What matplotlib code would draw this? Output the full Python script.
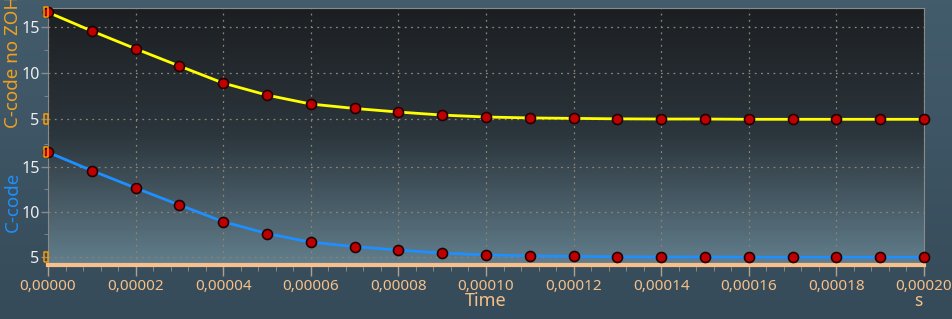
import matplotlib

matplotlib.use("Agg")
import matplotlib.pyplot as plt
import numpy as np
from matplotlib.colors import LinearSegmentedColormap
from matplotlib.ticker import FuncFormatter, MultipleLocator

# sample times (s) and the two recorded signals
time_s = [0.0, 0.00001, 0.00002, 0.00003, 0.00004, 0.00005, 0.00006, 0.00007,
          0.00008, 0.00009, 0.00010, 0.00011, 0.00012, 0.00013, 0.00014,
          0.00015, 0.00016, 0.00017, 0.00018, 0.00019, 0.00020]
ccode_no_zoh = [16.6, 14.57, 12.64, 10.76, 8.91, 7.6, 6.63, 6.15, 5.76, 5.43,
                5.22, 5.12, 5.07, 5.02, 5.0, 5.0, 4.97, 4.97, 4.97, 4.97, 4.97]
ccode = [16.6, 14.57, 12.64, 10.76, 8.91, 7.6, 6.63, 6.15, 5.76, 5.43,
         5.22, 5.12, 5.07, 5.02, 5.0, 5.0, 4.97, 4.97, 4.97, 4.97, 4.97]
y_ticks = [5, 10, 15]
x_major = 0.00002

plt.rcParams["font.family"] = ["Noto Sans", "DejaVu Sans"]

W, H = 953, 319
fig = plt.figure(figsize=(W / 100, H / 100), dpi=100)

# figure background
bg = fig.add_axes([0, 0, 1, 1])
bg.imshow(np.linspace(0, 1, 64).reshape(-1, 1), aspect="auto", extent=[0, 1, 0, 1],
          cmap=LinearSegmentedColormap.from_list("fbg", ["#435c6c", "#364b5a"]))
bg.set_axis_off()

left, right = 48 / W, 924 / W
top_px, mid_px, bot_px = 8, 140, 265

# plot area gradient
pa = fig.add_axes([left, 1 - bot_px / H, right - left, (bot_px - top_px) / H])
pa.imshow(np.linspace(0, 1, 128).reshape(-1, 1), aspect="auto", extent=[0, 1, 0, 1],
          cmap=LinearSegmentedColormap.from_list("pbg", ["#1c1f22", "#2c363d", "#627e8c"]))
pa.set_axis_off()

ax_top = fig.add_axes([left, 1 - mid_px / H, right - left, (mid_px - top_px) / H])
ax_bot = fig.add_axes([left, 1 - bot_px / H, right - left, (bot_px - mid_px) / H])

grid_kw = dict(color="#8c8474", lw=0.9, ls=(0, (1.5, 3.5)))
fmt = FuncFormatter(lambda v, _: f"{v:.5f}".replace(".", ","))
range_mark = [(-1, -2.5), (1, -2.5), (1, 2.5), (-1, 2.5), (-1, -2.5)]

for ax, vals, col, ylim in [(ax_top, ccode_no_zoh, "#ffff00", (2.72, 17.07)),
                            (ax_bot, ccode, "#1e8fff", (4.11, 17.96))]:
    ax.set_facecolor("none")
    ax.plot(time_s, vals, color=col, lw=2, zorder=3)
    ax.plot(time_s, vals, ls="none", marker="o", ms=7.2, mfc="#c00000", mec="#220000",
            mew=1.2, zorder=4, clip_on=False)
    ax.set_xlim(0, 0.0002)
    ax.set_ylim(*ylim)
    ax.set_yticks(y_ticks)
    ax.yaxis.set_minor_locator(MultipleLocator(2.5))
    ax.xaxis.set_major_locator(MultipleLocator(x_major))
    ax.grid(True, which="major", **grid_kw)
    ax.tick_params(axis="y", colors="#8a8a8a", labelcolor="#eeeeee", labelsize=11.5,
                   length=5, width=1, pad=1)
    ax.tick_params(axis="y", which="minor", colors="#8a8a8a", length=3)
    for s in ["top", "bottom"]:
        ax.spines[s].set_visible(False)
    ax.spines["left"].set_color("#8a8a8a")
    ax.spines["right"].set_color("#8a8a8a")
    # min / max markers on the value axis
    ax.plot([-0.0000005, -0.0000005], [max(vals), min(vals)], ls="none", marker=range_mark,
            ms=7, mew=1.1, mfc="none", mec="#ff9a00", zorder=5, clip_on=False)

ax_top.spines["top"].set_visible(True)
ax_top.spines["top"].set_color("#8a8a8a")
ax_top.tick_params(axis="x", bottom=False, labelbottom=False)

ax_bot.spines["bottom"].set_visible(True)
ax_bot.spines["bottom"].set_color("#f7c08c")
ax_bot.spines["bottom"].set_linewidth(3)
ax_bot.xaxis.set_major_formatter(fmt)
ax_bot.xaxis.set_minor_locator(MultipleLocator(x_major / 5))
ax_bot.tick_params(axis="x", which="major", colors="#b0a090", labelcolor="#f5c08a",
                   labelsize=11, length=8, width=1, pad=2)
ax_bot.tick_params(axis="x", which="minor", colors="#9a8f80", length=4)

fig.text(13 / W, 1 - 62 / H, "C-code no ZOH", rotation=90, color="#f0a020",
         fontsize=13.5, ha="center", va="center")
fig.text(13 / W, 1 - 202 / H, "C-code", rotation=90, color="#1e8fff",
         fontsize=13.5, ha="center", va="center")
fig.text(486 / W, 1 - 301 / H, "Time", color="#f5c08a", fontsize=13,
         ha="center", va="center")
fig.text(918 / W, 1 - 301 / H, "s", color="#f5c08a", fontsize=12.5, ha="center", va="center")

fig.savefig("out.png", dpi=100)
